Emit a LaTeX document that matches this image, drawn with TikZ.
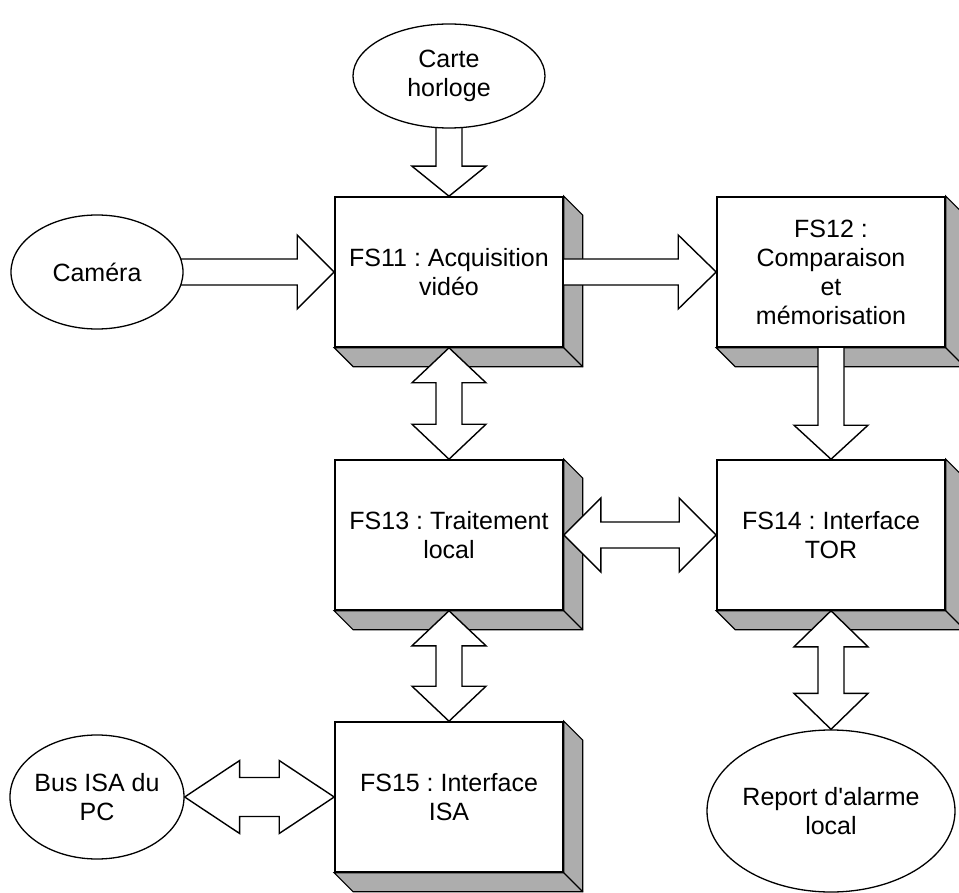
\documentclass[tikz,border=0pt]{standalone}
\usepackage{fontspec}
\setmainfont{Liberation Sans}
\usetikzlibrary{calc,shapes.geometric}
\pgfdeclarelayer{shadowlayer}
\pgfdeclarelayer{frontlayer}
\pgfsetlayers{shadowlayer,main,frontlayer}

\newcommand\diagfont{\fontsize{25}{29}\selectfont\frenchspacing}

\tikzset{
  fsbox/.style={draw, fill=white, line width=1.6pt, minimum width=228pt,
    minimum height=150pt, inner sep=0pt, align=center, font=\diagfont},
  oval/.style={ellipse, draw, fill=white, line width=1.3pt, inner sep=-10pt,
    align=center, font=\diagfont},
  blk/.style={draw, fill=white, line width=1.4pt, line join=miter},
  bevelshade/.style={draw, fill=black!32, line width=1.2pt, line join=miter},
  shaftw/.store in=\shaftw, headw/.store in=\headw, headl/.store in=\headl,
  shaftw=13, headw=37, headl=36
}

% block arrow with one head, from #2 to #3
\newcommand\onearrow[3][]{%
  \begin{scope}[#1]
    \coordinate (hb) at ($(#3)!\headl pt!(#2)$);
    \draw[blk] ($(#2)!\shaftw pt!90:(#3)$) -- ($(hb)!\shaftw pt!90:(#3)$)
      -- ($(hb)!\headw pt!90:(#3)$) -- (#3) -- ($(hb)!\headw pt!-90:(#3)$)
      -- ($(hb)!\shaftw pt!-90:(#3)$) -- ($(#2)!\shaftw pt!-90:(#3)$) -- cycle;
  \end{scope}}

% block arrow with a head at both ends
\newcommand\twoarrow[3][]{%
  \begin{scope}[#1]
    \coordinate (ha) at ($(#2)!\headl pt!(#3)$);
    \coordinate (hb) at ($(#3)!\headl pt!(#2)$);
    \draw[blk] (#2) -- ($(ha)!\headw pt!90:(#3)$) -- ($(ha)!\shaftw pt!90:(#3)$)
      -- ($(hb)!\shaftw pt!90:(#3)$) -- ($(hb)!\headw pt!90:(#3)$) -- (#3)
      -- ($(hb)!\headw pt!-90:(#3)$) -- ($(hb)!\shaftw pt!-90:(#3)$)
      -- ($(ha)!\shaftw pt!-90:(#3)$) -- ($(ha)!\headw pt!-90:(#3)$) -- cycle;
  \end{scope}}

\begin{document}
\begin{tikzpicture}[x=1pt, y=-1pt]
\useasboundingbox (0,0) rectangle (959,893);

\begin{pgfonlayer}{frontlayer}
  \node[fsbox] (fs11) at (449,272) {FS11 : Acquisition\\vidéo};
  \node[fsbox] (fs12) at (831,272) {FS12 :\\Comparaison\\et\\mémorisation};
  \node[fsbox] (fs13) at (449,535) {FS13 : Traitement\\local};
  \node[fsbox] (fs14) at (831,535) {FS14 : Interface\\TOR};
  \node[fsbox] (fs15) at (449,797) {FS15 : Interface\\ISA};
  \node[oval, minimum width=192pt, minimum height=104pt] (carte) at (449,76) {Carte\\horloge};
  \node[oval, minimum width=172pt, minimum height=114pt] (cam) at (97,272) {Caméra};
  \node[oval, minimum width=174pt, minimum height=124pt] (bus) at (97,797) {Bus ISA du\\PC};
  \node[oval, minimum width=248pt, minimum height=162pt] (alarm) at (831,811) {Report d\textquotesingle alarme\\local};
\end{pgfonlayer}

% bevelled depth of the function blocks
\begin{pgfonlayer}{shadowlayer}
  \fill[white] (0,0) rectangle (959,893);
  \foreach \bx in {fs11,fs12,fs13,fs14,fs15}{
    \draw[bevelshade] (\bx.north east) -- ++(19,19) -- ($(\bx.south east)+(19,19)$)
      -- ($(\bx.south west)+(19,19)$) -- (\bx.south west) -- (\bx.south east) -- cycle;
    \draw[line width=1.2pt] (\bx.south east) -- ++(19,19);
  }
\end{pgfonlayer}

% data flows
\onearrow[headl=30]{carte.center}{fs11.north}
\onearrow[headl=37]{cam.center}{fs11.west}
\onearrow[headl=38]{fs11.center}{fs12.west}
\onearrow[headl=34]{fs12.center}{fs14.north}
\twoarrow[headl=35]{fs11.south}{fs13.north}
\twoarrow[headl=37]{fs13.east}{fs14.west}
\twoarrow[headl=35]{fs13.south}{fs15.north}
\twoarrow[headl=36]{fs14.south}{alarm.north}
\twoarrow[shaftw=19.5, headw=36.5, headl=55]{bus.east}{fs15.west}
\end{tikzpicture}
\end{document}
